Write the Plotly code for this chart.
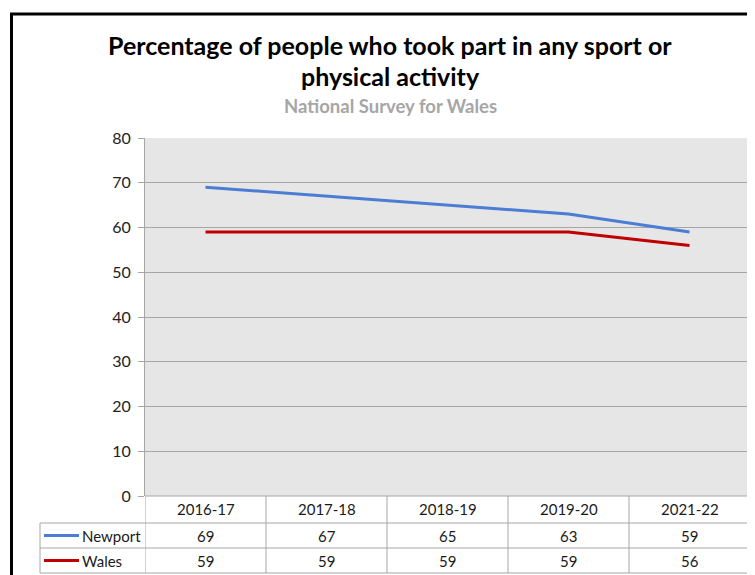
import plotly.graph_objects as go

# data
years = ["2016-17", "2017-18", "2018-19", "2019-20", "2021-22"]
newport = [69, 67, 65, 63, 59]
wales = [59, 59, 59, 59, 56]
series_names = ["Newport", "Wales"]
series_colors = ["#4a7dd3", "#c00000"]

W, H = 755, 575
OFF = 8  # page body margin
L, R, T, B = 145 - OFF, 5 + OFF, 138 - OFF, 79 + OFF
FONT = "Lato"
GRID = "#a6a6a6"


def px(x):
    return (x - OFF - L) / (W - L - R)


def py(y):
    return (H - B - (y - OFF)) / (H - T - B)


fig = go.Figure()
for name, vals, col in zip(series_names, [newport, wales], series_colors):
    fig.add_trace(go.Scatter(x=years, y=vals, name=name, mode="lines",
                             line=dict(color=col, width=3)))

shapes = []
# outer chart border (cropped)
shapes.append(dict(type="rect", xref="paper", yref="paper",
                   x0=px(11.5), x1=px(800), y0=py(620), y1=py(14),
                   line=dict(color="black", width=3)))

# data table lines
n = len(years)
for y, x0 in [(496, None), (523, 40), (548, 40), (573, 40)]:
    shapes.append(dict(type="line", yref="paper", y0=py(y), y1=py(y),
                       xref="x" if x0 is None else "paper",
                       x0=-0.5 if x0 is None else px(x0),
                       x1=n - 0.5 if x0 is None else 1,
                       line=dict(color=GRID, width=1)))
for i in range(n + 1):
    shapes.append(dict(type="line", xref="x", x0=i - 0.5, x1=i - 0.5,
                       yref="paper", y0=py(496), y1=py(573),
                       line=dict(color=GRID, width=1)))
shapes.append(dict(type="line", xref="paper", x0=px(40), x1=px(40),
                   yref="paper", y0=py(523), y1=py(573),
                   line=dict(color=GRID, width=1)))

annotations = []
tfont = dict(family=FONT, size=15, color="#1a1a1a")
for yr in years:
    annotations.append(dict(x=yr, xref="x", y=py(509.5), yref="paper",
                            text=yr, showarrow=False, font=tfont,
                            xanchor="center", yanchor="middle"))
for row_y, name, vals, col in zip([535.5, 560.5], series_names,
                                  [newport, wales], series_colors):
    shapes.append(dict(type="line", xref="paper", yref="paper",
                       x0=px(44), x1=px(79), y0=py(row_y), y1=py(row_y),
                       line=dict(color=col, width=3)))
    annotations.append(dict(x=px(80), xref="paper", y=py(row_y), yref="paper",
                            text=name, showarrow=False, xanchor="left",
                            yanchor="middle", font=tfont))
    for yr, v in zip(years, vals):
        annotations.append(dict(x=yr, xref="x", y=py(row_y), yref="paper",
                                text=str(v), showarrow=False, font=tfont,
                                xanchor="center", yanchor="middle"))

# titles
annotations.append(dict(x=px(390), y=py(45), xref="paper", yref="paper",
                        text="<b>Percentage of people who took part in any sport or</b>",
                        showarrow=False, xanchor="center", yanchor="middle",
                        font=dict(family=FONT, size=25, color="black")))
annotations.append(dict(x=px(390), y=py(76), xref="paper", yref="paper",
                        text="<b>physical activity</b>",
                        showarrow=False, xanchor="center", yanchor="middle",
                        font=dict(family=FONT, size=25, color="black")))
annotations.append(dict(x=px(390), y=py(106), xref="paper", yref="paper",
                        text="<b>National Survey for Wales</b>",
                        showarrow=False, xanchor="center", yanchor="middle",
                        font=dict(family=FONT, size=18.5, color="#a6a6a6")))

fig.update_layout(
    width=W, height=H, margin=dict(l=L, r=R, t=T, b=B),
    paper_bgcolor="white", plot_bgcolor="#e6e6e6",
    showlegend=False, shapes=shapes, annotations=annotations,
    font=dict(family=FONT),
)
fig.update_xaxes(showticklabels=False, showgrid=False, zeroline=False,
                 range=[-0.5, n - 0.5], showline=False)
fig.update_yaxes(range=[0, 80], dtick=10, showgrid=True, gridcolor=GRID,
                 zeroline=False, showline=True, linecolor=GRID, ticks="outside",
                 tickcolor=GRID, ticklen=6, ticklabelstandoff=4,
                 tickfont=dict(family=FONT, size=16, color="#222222"))

fig.write_html("out.html")
